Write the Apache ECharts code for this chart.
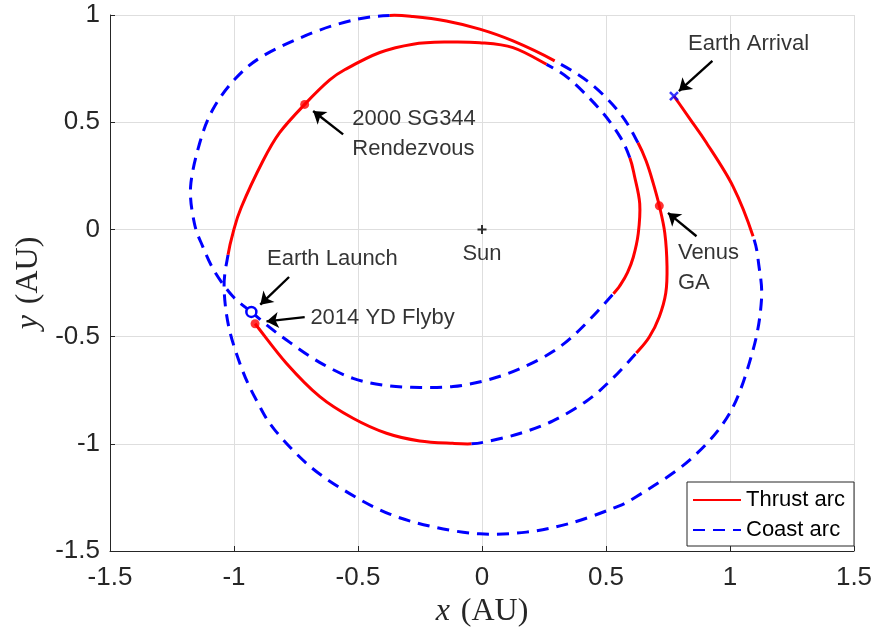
<!DOCTYPE html>
<html>
<head>
<meta charset="utf-8">
<script src="https://cdn.jsdelivr.net/npm/echarts@6/dist/echarts.min.js"></script>
<style>
  html, body { margin: 0; padding: 0; background: #fff; }
  #chart { width: 878px; height: 636px; }
</style>
</head>
<body>
<div id="chart"></div>
<script>
// Axis ticks (AU)
const xTicks = [-1.5, -1, -0.5, 0, 0.5, 1, 1.5];
const yTicks = [-1.5, -1, -0.5, 0, 0.5, 1];

// Trajectory arcs, [x, y] in AU, listed in flight order
const thrustAfterFlyby = [[-0.915, -0.44], [-0.789, -0.624], [-0.654, -0.78], [-0.52, -0.881], [-0.385, -0.951], [-0.251, -0.987], [-0.117, -0.998], [-0.043, -1.0]];
const coastAfterThrust = [[-0.043, -1.0], [0.018, -0.99], [0.152, -0.952], [0.286, -0.893], [0.422, -0.8], [0.519, -0.704], [0.622, -0.577]];
const thrustVenus = [[0.622, -0.577], [0.674, -0.503], [0.715, -0.407], [0.741, -0.297], [0.746, -0.172], [0.737, -0.016], [0.715, 0.11], [0.69, 0.217], [0.664, 0.312], [0.629, 0.404]];
const coastUpperRight = [[0.629, 0.404], [0.555, 0.544], [0.434, 0.684], [0.293, 0.786]];
const thrustOuterTop = [[0.293, 0.786], [0.125, 0.879], [-0.009, 0.934], [-0.144, 0.972], [-0.278, 0.993], [-0.372, 0.998]];
const coastOuterLeft = [[-0.372, 0.998], [-0.506, 0.98], [-0.681, 0.918], [-0.883, 0.809], [-0.997, 0.70], [-1.085, 0.56], [-1.138, 0.404], [-1.175, 0.2], [-1.16, 0.03], [-1.126, -0.08], [-1.078, -0.197], [-1.005, -0.312], [-0.93, -0.385]];
const coastInnerLower = [[-0.93, -0.385], [-0.856, -0.457], [-0.775, -0.527], [-0.655, -0.62], [-0.52, -0.695], [-0.385, -0.728], [-0.251, -0.737], [-0.117, -0.733], [0.018, -0.704], [0.152, -0.65], [0.286, -0.57], [0.394, -0.468], [0.53, -0.30]];
const thrustInnerRight = [[0.53, -0.30], [0.56, -0.255], [0.587, -0.2], [0.61, -0.13], [0.63, -0.02], [0.636, 0.12], [0.615, 0.248], [0.596, 0.334]];
const coastInnerRight = [[0.596, 0.334], [0.555, 0.435], [0.475, 0.56], [0.354, 0.70], [0.26, 0.77]];
const thrustInnerTop = [[0.26, 0.77], [0.125, 0.848], [-0.009, 0.871], [-0.144, 0.874], [-0.278, 0.864], [-0.412, 0.825], [-0.547, 0.749], [-0.614, 0.697], [-0.715, 0.583], [-0.816, 0.451], [-0.883, 0.32], [-0.971, 0.102], [-1.004, -0.016], [-1.024, -0.118]];
const coastOuterLower = [[-1.024, -0.118], [-1.04, -0.266], [-1.02, -0.46], [-0.964, -0.663], [-0.903, -0.811], [-0.836, -0.935], [-0.695, -1.104], [-0.537, -1.23], [-0.372, -1.328], [-0.198, -1.387], [-0.009, -1.42], [0.179, -1.412], [0.354, -1.371], [0.528, -1.301], [0.622, -1.247], [0.837, -1.076], [0.999, -0.857], [1.093, -0.562], [1.127, -0.328], [1.116, -0.165], [1.093, -0.032]];
const thrustArrival = [[1.093, -0.032], [1.012, 0.201], [0.905, 0.404], [0.841, 0.511], [0.774, 0.622]];

const trajectory = [
  { arc: thrustAfterFlyby, kind: 'thrust' },
  { arc: coastAfterThrust, kind: 'coast' },
  { arc: thrustVenus, kind: 'thrust' },
  { arc: coastUpperRight, kind: 'coast' },
  { arc: thrustOuterTop, kind: 'thrust' },
  { arc: coastOuterLeft, kind: 'coast' },
  { arc: coastInnerLower, kind: 'coast' },
  { arc: thrustInnerRight, kind: 'thrust' },
  { arc: coastInnerRight, kind: 'coast' },
  { arc: thrustInnerTop, kind: 'thrust' },
  { arc: coastOuterLower, kind: 'coast' },
  { arc: thrustArrival, kind: 'thrust' }
];

// Mission events
const earthLaunch = [-0.93, -0.385];
const flyby2014YD = [-0.915, -0.44];
const rendezvousSG344 = [-0.715, 0.583];
const venusGA = [0.715, 0.11];
const earthArrival = [0.774, 0.622];
const sun = [0, 0];

// Annotation texts and arrows (tail -> tip)
const notes = [
  { text: 'Earth Arrival', at: [0.831, 0.864], tail: [0.929, 0.786], tip: [0.794, 0.645] },
  { text: '2000 SG344\nRendezvous', at: [-0.523, 0.443], tail: [-0.56, 0.443], tip: [-0.681, 0.552] },
  { text: 'Venus\nGA', at: [0.79, -0.18], tail: [0.865, -0.032], tip: [0.75, 0.077] },
  { text: 'Earth Launch', at: [-0.867, -0.138], tail: [-0.778, -0.222], tip: [-0.894, -0.351] },
  { text: '2014 YD Flyby', at: [-0.692, -0.414], tail: [-0.715, -0.409], tip: [-0.869, -0.429] }
];

const RED = '#ff0000';
const BLUE = '#0000ff';
const DASH = [12, 8];
const SANS = 'Liberation Sans, Arial, Helvetica, sans-serif';
const SERIF = 'Liberation Serif, Times New Roman, serif';

// Smooth path (Catmull-Rom as cubic Beziers) through screen points;
// neighbouring arcs supply the end tangents so joins stay smooth.
function curvePath(p, before, after) {
  const n = p.length;
  const at = i => {
    if (i < 0) return before || [2 * p[0][0] - p[1][0], 2 * p[0][1] - p[1][1]];
    if (i >= n) return after || [2 * p[n - 1][0] - p[n - 2][0], 2 * p[n - 1][1] - p[n - 2][1]];
    return p[i];
  };
  let d = 'M' + p[0][0] + ' ' + p[0][1];
  for (let i = 0; i < n - 1; i++) {
    const p0 = at(i - 1), p1 = at(i), p2 = at(i + 1), p3 = at(i + 2);
    const c1x = p1[0] + (p2[0] - p0[0]) / 6, c1y = p1[1] + (p2[1] - p0[1]) / 6;
    const c2x = p2[0] - (p3[0] - p1[0]) / 6, c2y = p2[1] - (p3[1] - p1[1]) / 6;
    d += 'C' + c1x + ' ' + c1y + ' ' + c2x + ' ' + c2y + ' ' + p2[0] + ' ' + p2[1];
  }
  return d;
}

function arcSeries(idx) {
  const seg = trajectory[idx];
  const pts = seg.arc;
  const prev = idx > 0 ? trajectory[idx - 1].arc : null;
  const next = idx < trajectory.length - 1 ? trajectory[idx + 1].arc : null;
  const dashed = seg.kind === 'coast';
  const color = dashed ? BLUE : RED;
  return {
    type: 'custom',
    silent: true,
    z: dashed ? 2 : 3,
    data: pts,
    encode: { x: 0, y: 1 },
    renderItem: function (params, api) {
      if (params.dataIndex !== 0) return null;
      const screen = pts.map(v => api.coord(v));
      const before = prev ? api.coord(prev[prev.length - 2]) : null;
      const after = next ? api.coord(next[1]) : null;
      return {
        type: 'path',
        shape: { pathData: curvePath(screen, before, after) },
        style: { fill: null, stroke: color, lineWidth: 3, lineDash: dashed ? DASH : null, lineCap: 'butt', lineJoin: 'round' }
      };
    }
  };
}

const series = [];
// Legend entries
series.push({ name: 'Thrust arc', type: 'line', data: [], symbol: 'none', lineStyle: { color: RED, width: 3 }, itemStyle: { color: RED } });
series.push({ name: 'Coast arc', type: 'line', data: [], symbol: 'none', lineStyle: { color: BLUE, width: 3, type: DASH }, itemStyle: { color: BLUE } });

trajectory.forEach((seg, i) => series.push(arcSeries(i)));

// Event markers
series.push({
  type: 'scatter', silent: true, z: 5,
  data: [flyby2014YD, rendezvousSG344, venusGA],
  symbol: 'circle', symbolSize: 9,
  itemStyle: { color: RED }
});
series.push({
  type: 'scatter', silent: true, z: 6,
  data: [earthLaunch],
  symbol: 'circle', symbolSize: 10,
  itemStyle: { color: '#fff', borderColor: BLUE, borderWidth: 2.5, opacity: 1 }
});
series.push({
  type: 'scatter', silent: true, z: 6,
  data: [earthArrival],
  symbol: 'path://M0,0L10,10M10,0L0,10', symbolSize: 8,
  itemStyle: { color: 'none', borderColor: BLUE, borderWidth: 2.5 }
});
series.push({
  type: 'scatter', silent: true, z: 6,
  data: [sun],
  symbol: 'path://M5,0L5,10M0,5L10,5', symbolSize: 9,
  itemStyle: { color: 'none', borderColor: '#000', borderWidth: 2 },
  label: {
    show: true, formatter: 'Sun', position: 'bottom', distance: 7,
    fontFamily: SANS, fontSize: 22, color: '#000'
  }
});

// Annotation texts with arrows
series.push({
  type: 'scatter', silent: true, z: 7,
  symbolSize: 0,
  data: notes.map(n => ({ value: n.at, name: n.text })),
  label: {
    show: true, position: 'right', distance: 0,
    formatter: p => p.name,
    fontFamily: SANS, fontSize: 22, color: '#000', lineHeight: 30,
    align: 'left', verticalAlign: 'middle'
  },
  markLine: {
    silent: true, animation: false,
    symbol: ['none', 'arrow'], symbolSize: 12,
    label: { show: false },
    lineStyle: { color: '#000', width: 2.4, type: 'solid' },
    emphasis: { disabled: true },
    data: notes.map(n => [{ coord: n.tail }, { coord: n.tip }])
  }
});

const chart = echarts.init(document.getElementById('chart'), null, { renderer: 'canvas' });
chart.setOption({
  animation: false,
  backgroundColor: '#fff',
  grid: { left: 110, right: 24, top: 15, bottom: 85, containLabel: false },
  xAxis: {
    type: 'value',
    min: xTicks[0], max: xTicks[xTicks.length - 1], interval: xTicks[1] - xTicks[0],
    name: '{i|x} (AU)', nameLocation: 'middle', nameGap: 41,
    nameTextStyle: {
      fontFamily: SERIF, fontSize: 32, color: '#262626',
      rich: { i: { fontFamily: SERIF, fontStyle: 'italic', fontSize: 32, color: '#262626', padding: [0, 3, 0, 0] } }
    },
    axisLine: { show: true, onZero: false, lineStyle: { color: '#262626', width: 1 } },
    axisTick: { show: true, inside: true, length: 5, lineStyle: { color: '#262626' } },
    axisLabel: { fontFamily: SANS, fontSize: 26, color: '#262626', margin: 14 },
    splitLine: { show: true, lineStyle: { color: '#dedede', width: 1 } }
  },
  yAxis: {
    type: 'value',
    min: yTicks[0], max: yTicks[yTicks.length - 1], interval: yTicks[1] - yTicks[0],
    name: '{i|y} (AU)', nameLocation: 'middle', nameGap: 46, nameRotate: 90,
    nameTextStyle: {
      fontFamily: SERIF, fontSize: 32, color: '#262626',
      rich: { i: { fontFamily: SERIF, fontStyle: 'italic', fontSize: 32, color: '#262626', padding: [0, 3, 0, 0] } }
    },
    axisLine: { show: true, onZero: false, lineStyle: { color: '#262626', width: 1 } },
    axisTick: { show: true, inside: true, length: 5, lineStyle: { color: '#262626' } },
    axisLabel: { fontFamily: SANS, fontSize: 26, color: '#262626', margin: 10 },
    splitLine: { show: true, lineStyle: { color: '#dedede', width: 1 } }
  },
  legend: {
    data: ['Thrust arc', 'Coast arc'],
    orient: 'vertical',
    left: 687, top: 482,
    padding: [7, 9, 5, 5],
    itemGap: 8,
    itemWidth: 48, itemHeight: 14,
    backgroundColor: '#fff',
    borderColor: '#262626', borderWidth: 1, borderRadius: 0,
    selectedMode: false,
    itemStyle: { color: 'rgba(0,0,0,0)', borderWidth: 0, opacity: 0 },
    textStyle: { fontFamily: SANS, fontSize: 22, color: '#000' }
  },
  series: series
});
</script>
</body>
</html>
